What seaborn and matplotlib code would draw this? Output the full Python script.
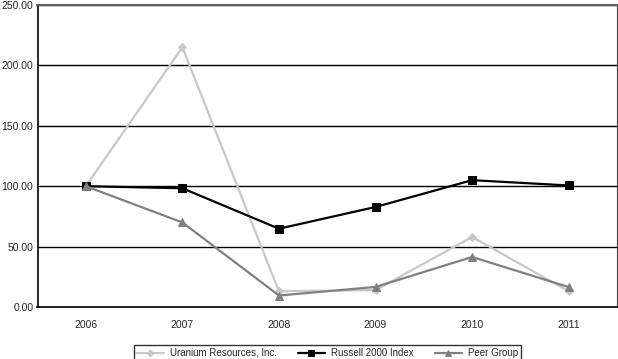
import seaborn as sns
import matplotlib.pyplot as plt
import pandas as pd

years = ["2006", "2007", "2008", "2009", "2010", "2011"]
uranium = [100.0, 215.0, 13.0, 14.0, 58.0, 13.0]
russell = [100.0, 98.3, 64.8, 82.8, 105.0, 100.6]
peer = [100.0, 70.0, 9.5, 16.6, 41.4, 16.5]

series_names = ["Uranium Resources, Inc.", "Russell 2000 Index", "Peer Group"]
colori = ["#c8c8c8", "#000000", "#808080"]
marcatori = ["D", "s", "^"]
dimensioni = [4.5, 6, 6]

df = pd.DataFrame({
    "anno": years * 3,
    "valore": uranium + russell + peer,
    "serie": [series_names[0]] * 6 + [series_names[1]] * 6 + [series_names[2]] * 6,
})
df["pos"] = df["anno"].map({a: i for i, a in enumerate(years)})

sns.set_style("white")
plt.rcParams['font.family'] = ['Liberation Sans', 'DejaVu Sans']

fig = plt.figure(figsize=(6.18, 3.59), dpi=100)
ax = fig.add_axes([37.5 / 618, 52 / 359, 579.5 / 618, 302 / 359])

for nome, col, mk, ms in zip(series_names, colori, marcatori, dimensioni):
    sub = df[df["serie"] == nome]
    sns.lineplot(data=sub, x="pos", y="valore", ax=ax, color=col, marker=mk,
                 markersize=ms, markeredgecolor=col, linewidth=1.6, label=nome)

ax.set_xlim(-0.5, 5.5)
ax.set_ylim(0, 250)
ax.set_yticks([0, 50, 100, 150, 200, 250])
ax.set_yticklabels([f"{v:.2f}" for v in [0, 50, 100, 150, 200, 250]], fontsize=7.5)
ax.set_xticks(range(6))
ax.set_xticklabels(years, fontsize=7.5)
ax.set_xticks([i + 0.5 for i in range(-1, 6)], minor=True)
ax.tick_params(axis="x", which="major", length=0, pad=9)
ax.tick_params(axis="x", which="minor", length=4, color="black", direction="in")
ax.tick_params(axis="y", length=0, pad=3)
ax.yaxis.grid(True, color="black", linewidth=1)
ax.set_axisbelow(True)
ax.set_xlabel("")
ax.set_ylabel("")

ax.spines["left"].set_color("black")
ax.spines["bottom"].set_color("black")
ax.spines["top"].set_color("#606060")
ax.spines["top"].set_linewidth(1.5)
ax.spines["right"].set_color("#404040")
for s in ["left", "bottom"]:
    ax.spines[s].set_linewidth(1.2)

leg = ax.legend(loc="upper center", bbox_to_anchor=(0.5, -0.11), ncol=3,
                frameon=True, fontsize=7, fancybox=False, borderpad=0.3,
                handlelength=2.8, handletextpad=0.6, columnspacing=2.2,
                markerscale=0.75)
leg.get_frame().set_edgecolor("black")
leg.get_frame().set_linewidth(1)

plt.savefig("out.png", dpi=100)
